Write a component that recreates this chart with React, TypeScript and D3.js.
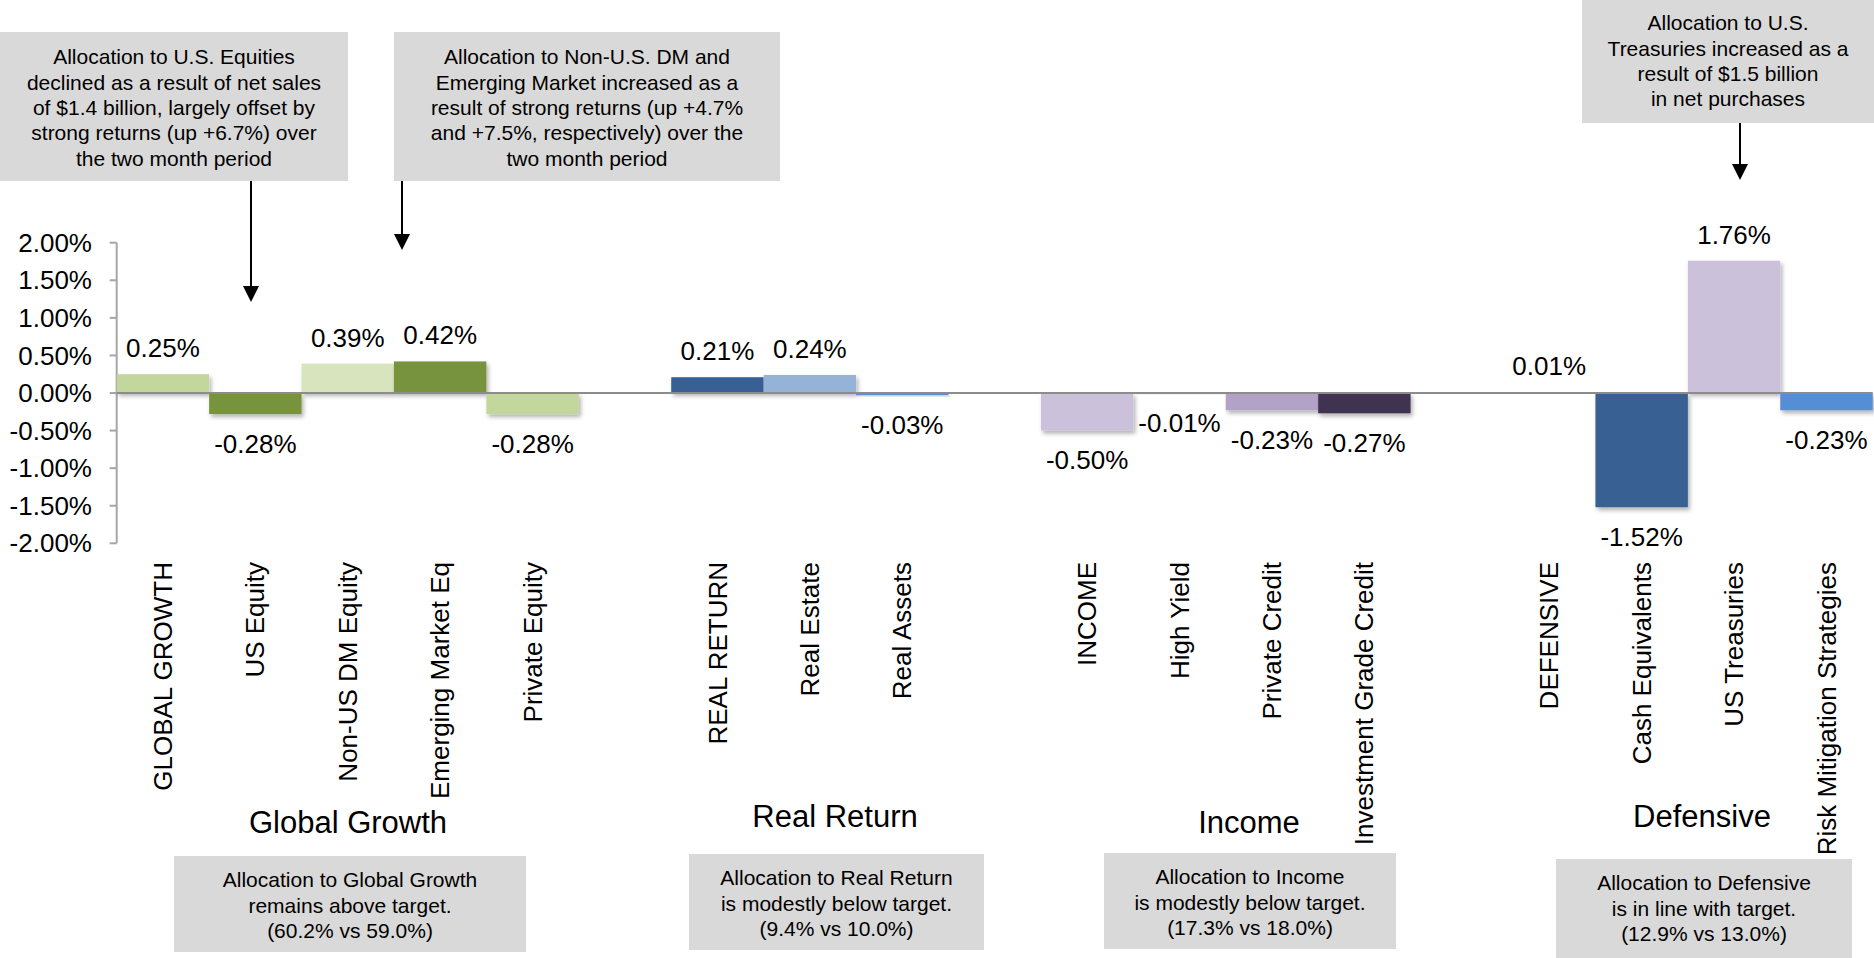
import React from "react";
import * as d3 from "d3";

// ---------- data ----------
const categories = [
  "GLOBAL GROWTH", "US Equity", "Non-US DM Equity", "Emerging Market Eq", "Private Equity",
  "REAL RETURN", "Real Estate", "Real Assets",
  "INCOME", "High Yield", "Private Credit", "Investment Grade Credit",
  "DEFENSIVE", "Cash Equivalents", "US Treasuries", "Risk Mitigation Strategies",
];
const values = [0.25, -0.28, 0.39, 0.42, -0.28, 0.21, 0.24, -0.03, -0.5, -0.01, -0.23, -0.27, 0.01, -1.52, 1.76, -0.23];
const groupOf = [0, 0, 0, 0, 0, 1, 1, 1, 2, 2, 2, 2, 3, 3, 3, 3];
const groupNames = ["Global Growth", "Real Return", "Income", "Defensive"];
const barColors = [
  "#c3d69b", "#77933c", "#d7e4bd", "#77933c", "#c3d69b",
  "#376092", "#95b3d7", "#558ed5",
  "#ccc1da", "#b3a2c7", "#b3a2c7", "#403151",
  "#f2f2f2", "#376092", "#ccc1da", "#558ed5",
];
const yTicks = [2, 1.5, 1, 0.5, 0, -0.5, -1, -1.5, -2];

const topNotes = [
  ["Allocation to U.S. Equities", "declined as a result of net sales", "of $1.4 billion, largely offset by", "strong returns (up +6.7%) over", "the two month period"],
  ["Allocation to Non-U.S. DM and", "Emerging Market increased as a", "result of strong returns (up +4.7%", "and +7.5%, respectively) over the", "two month period"],
  ["Allocation to U.S.", "Treasuries increased as a", "result of $1.5 billion", "in net purchases"],
];
const bottomNotes = [
  ["Allocation to Global Growth", "remains above target.", "(60.2% vs 59.0%)"],
  ["Allocation to Real Return", "is modestly below target.", "(9.4% vs 10.0%)"],
  ["Allocation to Income", "is modestly below target.", "(17.3% vs 18.0%)"],
  ["Allocation to Defensive", "is in line with target.", "(12.9% vs 13.0%)"],
];

// ---------- layout ----------
const W = 1874;
const H = 958;
const FONT = "'Liberation Sans', Arial, Helvetica, sans-serif";
const topBoxes = [
  { x: 0, y: 32, w: 348, h: 149, firstLine: 57, arrowX: 251, arrowTip: 302 },
  { x: 394, y: 32, w: 386, h: 149, firstLine: 57, arrowX: 402, arrowTip: 250 },
  { x: 1582, y: 0, w: 292, h: 123, firstLine: 23, arrowX: 1740, arrowTip: 180 },
];
const bottomBoxes = [
  { x: 174, y: 856, w: 352, h: 96, firstLine: 880 },
  { x: 689, y: 854, w: 295, h: 96, firstLine: 878 },
  { x: 1104, y: 853, w: 292, h: 96, firstLine: 877 },
  { x: 1556, y: 859, w: 296, h: 99, firstLine: 883 },
];
const titlePos = [
  { x: 348, y: 833 },
  { x: 835, y: 827 },
  { x: 1249, y: 833 },
  { x: 1702, y: 827 },
];

export default function App() {
  const slotIdx = categories.map((_, i) => i + groupOf[i]);
  const nSlots = categories.length + groupNames.length - 1;
  const x = d3.scaleBand<number>().domain(d3.range(nSlots)).range([116.7, 1872.7]).padding(0);
  const y = d3.scaleLinear().domain([-2, 2]).range([543.3, 242.7]);
  const fmt = (v: number) => d3.format(".2f")(v).replace("\u2212", "-") + "%";
  const axisX = x.range()[0];

  return (
    <svg
      width={W}
      height={H}
      viewBox={`0 0 ${W} ${H}`}
      style={{ position: "absolute", left: 0, top: 0, display: "block", background: "#fff" }}
      fontFamily={FONT}
    >
      <defs>
        <filter id="shadow" x="-10%" y="-10%" width="130%" height="160%">
          <feDropShadow dx="2" dy="3" stdDeviation="2" floodColor="#000" floodOpacity="0.3" />
        </filter>
      </defs>

      {/* top annotation boxes */}
      {topBoxes.map((b, i) => (
        <g key={"tb" + i}>
          <rect x={b.x} y={b.y} width={b.w} height={b.h} fill="#d9d9d9" />
          <text fontSize={21} textAnchor="middle" fill="#000">
            {topNotes[i].map((line, j) => (
              <tspan key={j} x={b.x + b.w / 2} y={b.firstLine + j * 25.3} dy="0.35em">
                {line}
              </tspan>
            ))}
          </text>
          <line x1={b.arrowX} x2={b.arrowX} y1={b.y + b.h} y2={b.arrowTip - 12} stroke="#000" strokeWidth={2} />
          <path
            d={`M${b.arrowX - 8},${b.arrowTip - 16} L${b.arrowX + 8},${b.arrowTip - 16} L${b.arrowX},${b.arrowTip} Z`}
            fill="#000"
          />
        </g>
      ))}

      {/* y axis */}
      <line x1={axisX} x2={axisX} y1={y(2)} y2={y(-2)} stroke="#a6a6a6" strokeWidth={2} />
      {yTicks.map((t) => (
        <g key={"t" + t}>
          <line x1={axisX - 7} x2={axisX} y1={y(t)} y2={y(t)} stroke="#a6a6a6" strokeWidth={2} />
          <text x={92} y={y(t)} dy="0.35em" textAnchor="end" fontSize={26} fill="#000">
            {fmt(t)}
          </text>
        </g>
      ))}

      {/* bars */}
      {values.map((v, i) => {
        const x0 = x(slotIdx[i])!;
        const top = Math.min(y(v), y(0));
        const h = Math.max(Math.abs(y(v) - y(0)), 1);
        return (
          <rect key={"b" + i} x={x0} y={top} width={x.bandwidth()} height={h} fill={barColors[i]} filter="url(#shadow)" />
        );
      })}

      {/* zero line */}
      <line x1={axisX} x2={x.range()[1]} y1={y(0)} y2={y(0)} stroke="#8c8c8c" strokeWidth={2} />

      {/* data labels */}
      {values.map((v, i) => {
        const cx = x(slotIdx[i])! + x.bandwidth() / 2;
        const yy = v >= 0 ? y(v) - 17 : y(v) + 38.5;
        return (
          <text key={"l" + i} x={cx} y={yy} textAnchor="middle" fontSize={26} fill="#000">
            {fmt(v)}
          </text>
        );
      })}

      {/* category labels */}
      {categories.map((c, i) => {
        const cx = x(slotIdx[i])! + x.bandwidth() / 2;
        return (
          <text
            key={"c" + i}
            transform={`translate(${cx},562) rotate(-90)`}
            dy="0.35em"
            textAnchor="end"
            fontSize={26}
            fill="#000"
          >
            {c}
          </text>
        );
      })}

      {/* group titles */}
      {groupNames.map((g, i) => (
        <text key={"g" + i} x={titlePos[i].x} y={titlePos[i].y} textAnchor="middle" fontSize={31} fill="#000">
          {g}
        </text>
      ))}

      {/* bottom annotation boxes */}
      {bottomBoxes.map((b, i) => (
        <g key={"bb" + i}>
          <rect x={b.x} y={b.y} width={b.w} height={b.h} fill="#d9d9d9" />
          <text fontSize={21} textAnchor="middle" fill="#000">
            {bottomNotes[i].map((line, j) => (
              <tspan key={j} x={b.x + b.w / 2} y={b.firstLine + j * 25.3} dy="0.35em">
                {line}
              </tspan>
            ))}
          </text>
        </g>
      ))}
    </svg>
  );
}
